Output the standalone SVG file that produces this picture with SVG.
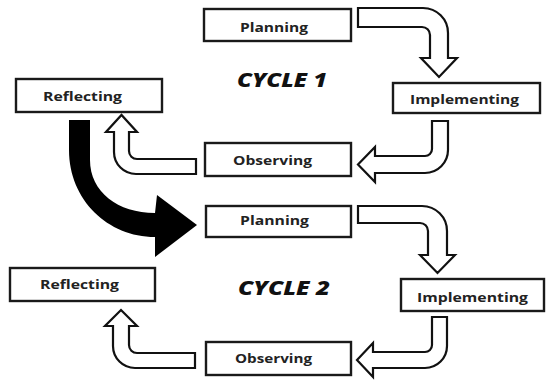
<svg xmlns="http://www.w3.org/2000/svg" width="546" height="381" viewBox="0 0 546 381">
<style>
.box{fill:#fff;stroke:#1a1a1a;stroke-width:2.4}
.lbl{font-family:"Open Sans","DejaVu Sans",sans-serif;font-weight:700;font-size:13px;fill:#222}
.cyc{font-family:"Open Sans","DejaVu Sans",sans-serif;font-weight:800;font-style:italic;font-size:19px;fill:#111}
.arr{fill:#fff;stroke:#111;stroke-width:2.2;stroke-linejoin:miter}
</style>
<rect width="546" height="381" fill="#fff"/>
<g id="connectors">
<path class="arr" d="M358,8 L423,8 A25,25 0 0 1 448,33 L448,58 L457,58 L439,77 L421,58 L430,58 L430,35 A8,8 0 0 0 422,27 L358,27 Z"/>
<path class="arr" d="M432,121 L448,121 L448,150 A23,23 0 0 1 425,173 L375,173 L375,182 L358,164.5 L375,147 L375,156 L425,156 A7,7 0 0 0 432,149 Z"/>
<path class="arr" d="M196,159 L137,159 A8,8 0 0 1 129,151 L129,132 L137,132 L121.5,115 L106,132 L114,132 L114,152 A22,22 0 0 0 136,174 L196,174 Z"/>
<path fill="#000" d="M69,120 L90,120 L90,160 C90,192 118,213 155,213 L157,195 L197,225 L155,257 L155,237 C108,237 69,200 69,150 Z"/>
<path class="arr" d="M358,206 L422,206 A25,25 0 0 1 447,231 L447,255 L455,255 L437.5,273 L420,255 L428,255 L428,231 A8,8 0 0 0 420,223 L358,223 Z"/>
<path class="arr" d="M432,317 L447,317 L447,346 A22,22 0 0 1 425,368 L373,368 L373,377 L357,360 L373,343 L373,352 L425,352 A7,7 0 0 0 432,345 Z"/>
<path class="arr" d="M195,353 L137,353 A8,8 0 0 1 129,345 L129,326 L137,326 L121,310 L105,326 L113,326 L113,346 A22,22 0 0 0 135,368 L195,368 Z"/>
</g>
<g id="planning1"><rect class="box" x="204" y="9" width="147" height="32"/><text class="lbl" x="240" y="32" textLength="68" lengthAdjust="spacingAndGlyphs">Planning</text></g>
<g id="implementing1"><rect class="box" x="393" y="83" width="147" height="30"/><text class="lbl" x="410" y="104" textLength="109" lengthAdjust="spacingAndGlyphs">Implementing</text></g>
<g id="reflecting1"><rect class="box" x="16" y="79" width="146" height="33"/><text class="lbl" x="43" y="101" textLength="79" lengthAdjust="spacingAndGlyphs">Reflecting</text></g>
<g id="observing1"><rect class="box" x="205" y="143" width="146" height="33"/><text class="lbl" x="233" y="165" textLength="79" lengthAdjust="spacingAndGlyphs">Observing</text></g>
<g id="planning2"><rect class="box" x="206" y="206" width="145" height="31"/><text class="lbl" x="240" y="225" textLength="69" lengthAdjust="spacingAndGlyphs">Planning</text></g>
<g id="implementing2"><rect class="box" x="401" y="279" width="143" height="32"/><text class="lbl" x="417" y="302" textLength="111" lengthAdjust="spacingAndGlyphs">Implementing</text></g>
<g id="reflecting2"><rect class="box" x="10" y="268" width="145" height="33"/><text class="lbl" x="40" y="289" textLength="79" lengthAdjust="spacingAndGlyphs">Reflecting</text></g>
<g id="observing2"><rect class="box" x="206" y="342" width="145" height="33"/><text class="lbl" x="235" y="363" textLength="77" lengthAdjust="spacingAndGlyphs">Observing</text></g>
<g id="cycle1"><text class="cyc" x="237" y="87" textLength="90" lengthAdjust="spacingAndGlyphs">CYCLE 1</text></g>
<g id="cycle2"><text class="cyc" x="238" y="295" textLength="92" lengthAdjust="spacingAndGlyphs">CYCLE 2</text></g>
</svg>
